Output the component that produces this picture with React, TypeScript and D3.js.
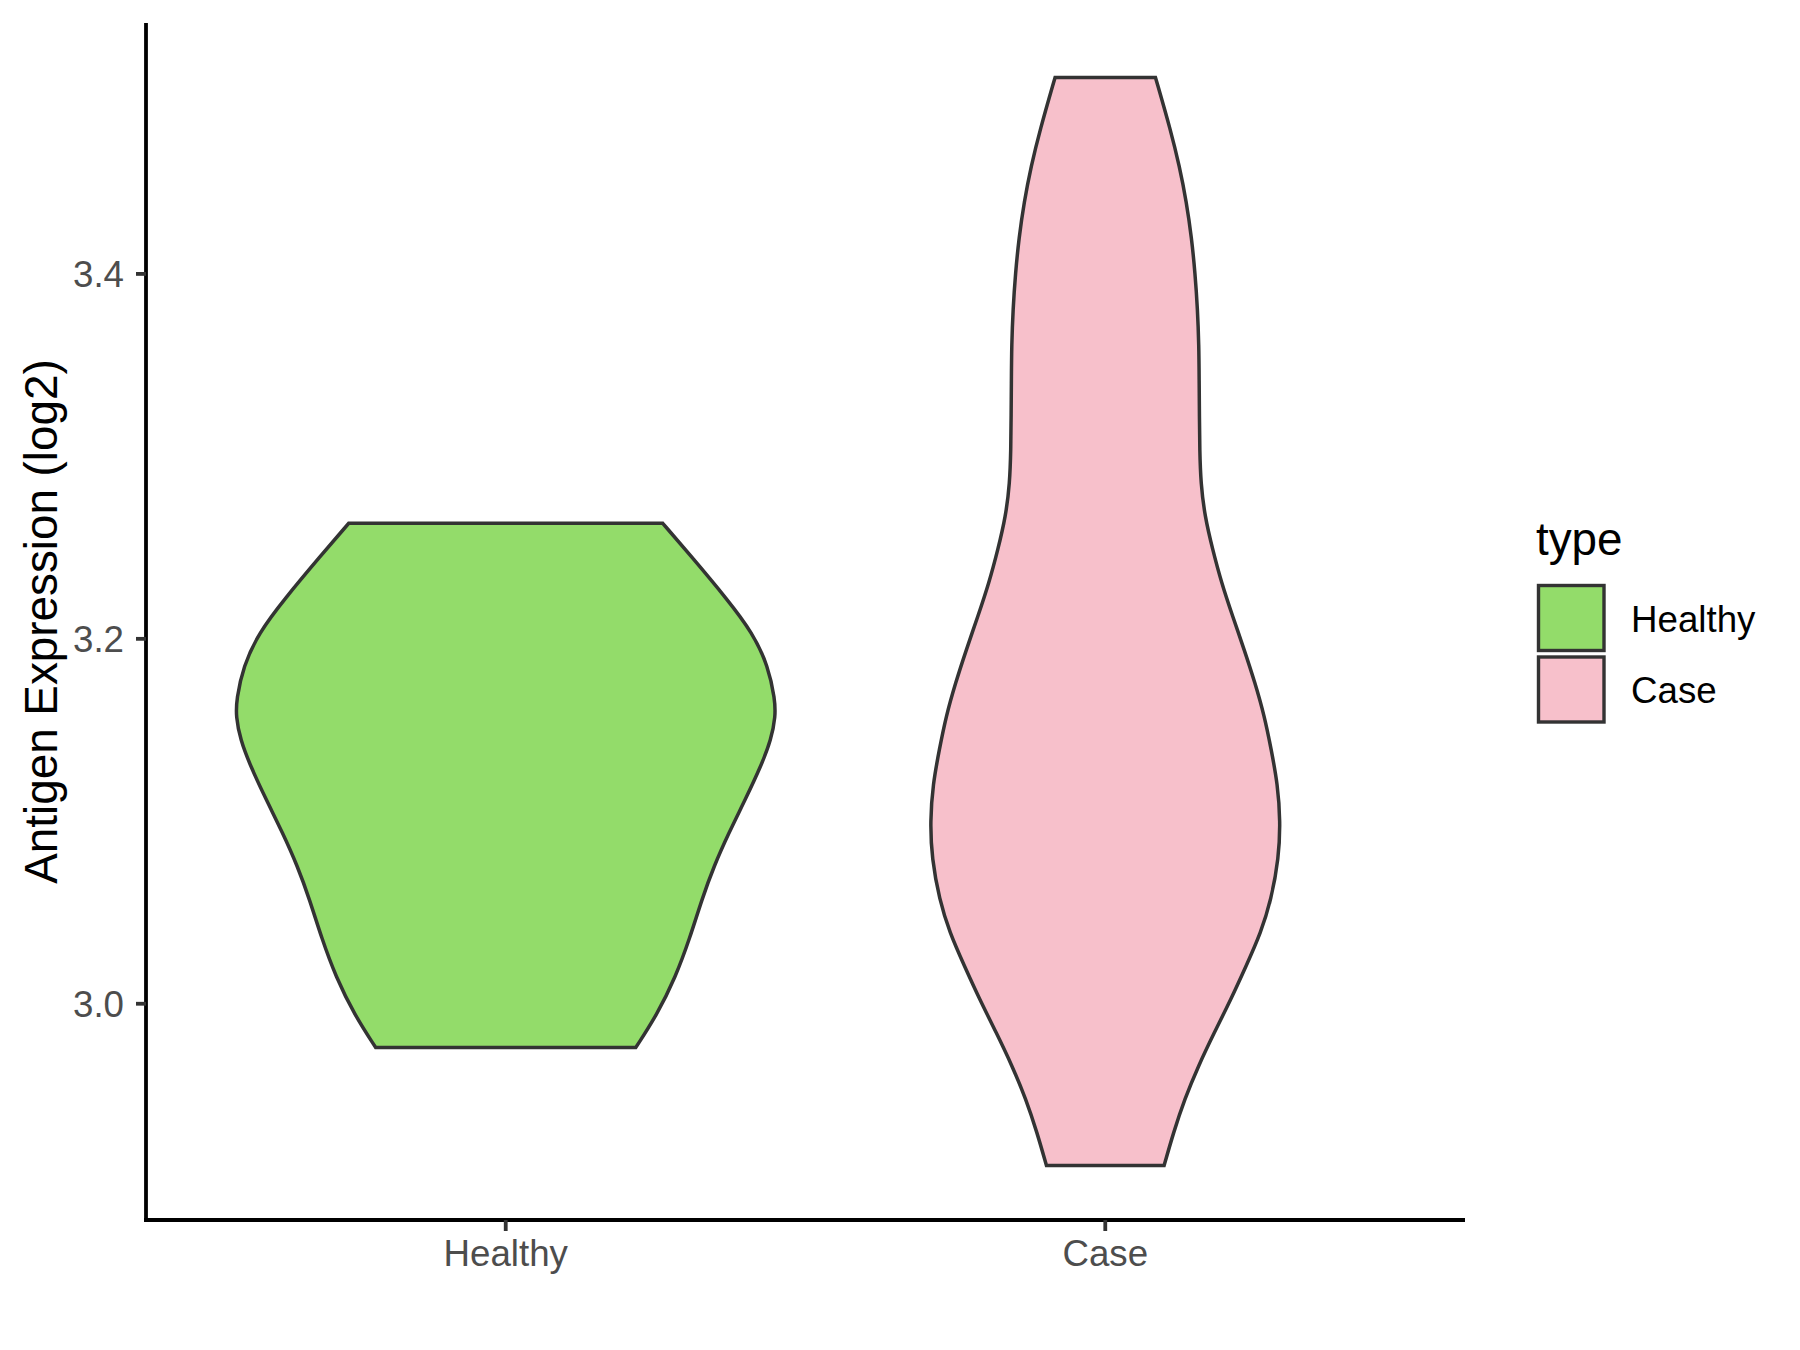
import React from 'react';
import * as d3 from 'd3';

// ---- data ----
const categories = ['Healthy', 'Case'];
const fillColors = ['#93DC6A', '#F7C0CB'];

// violin outlines: expression value (log2) and relative density (1 = widest)
const healthyValues = [3.2633, 3.2455, 3.2215, 3.2033, 3.185, 3.1667, 3.1576, 3.1448, 3.1302, 3.1119, 3.0937, 3.0755, 3.0572, 3.0358, 3.0148, 2.9938, 2.976];
const healthyDensity = [0.582, 0.686, 0.822, 0.915, 0.973, 0.998, 1.0, 0.984, 0.946, 0.888, 0.827, 0.772, 0.727, 0.682, 0.63, 0.56, 0.482];

const caseValues = [3.5077, 3.4784, 3.4589, 3.4393, 3.4197, 3.4002, 3.3806, 3.361, 3.3415, 3.3219, 3.3036, 3.2854, 3.2671, 3.2489, 3.2306, 3.2124, 3.1941, 3.1759, 3.1576, 3.1394, 3.1203, 3.1, 3.0797, 3.0572, 3.039, 3.0207, 3.0025, 2.9842, 2.9659, 2.9477, 2.9295, 2.9113];
const caseDensity = [0.186, 0.243, 0.275, 0.301, 0.32, 0.333, 0.342, 0.347, 0.348, 0.349, 0.35, 0.354, 0.369, 0.398, 0.431, 0.472, 0.515, 0.555, 0.59, 0.615, 0.639, 0.649, 0.643, 0.615, 0.577, 0.522, 0.466, 0.404, 0.345, 0.294, 0.253, 0.218];

const yTicks = [3.0, 3.2, 3.4];
const yTickLabels = ['3.0', '3.2', '3.4'];
const yTitle = 'Antigen Expression (log2)';
const legendTitle = 'type';

const FONT = '"Liberation Sans", Arial, Helvetica, sans-serif';

export default function App() {
  const W = 1800;
  const H = 1350;
  const left = 146;
  const right = 1465;
  const top = 23;
  const bottom = 1220;

  const series = [
    { name: categories[0], values: healthyValues, density: healthyDensity, fill: fillColors[0] },
    { name: categories[1], values: caseValues, density: caseDensity, fill: fillColors[1] },
  ];

  const all = [...healthyValues, ...caseValues];
  const lo = d3.min(all) as number;
  const hi = d3.max(all) as number;
  const pad = (hi - lo) * 0.05;

  const x = d3.scalePoint<string>().domain(categories).range([left, right]).padding(0.6);
  const step = x.step();
  const w = d3.scaleLinear().domain([0, 1]).range([0, step * 0.45]);
  const y = d3.scaleLinear().domain([lo - pad, hi + pad]).range([bottom, top]);

  return (
    <svg
      width={W}
      height={H}
      viewBox={`0 0 ${W} ${H}`}
      style={{ position: 'absolute', left: 0, top: 0, background: '#fff' }}
      fontFamily={FONT}
    >
      <rect x={0} y={0} width={W} height={H} fill="#fff" />
      {series.map((s) => {
        const cx = x(s.name) as number;
        const pts = s.values.map((v, i) => [v, s.density[i]] as [number, number]);
        const area = d3
          .area<[number, number]>()
          .x0((d) => cx - w(d[1]))
          .x1((d) => cx + w(d[1]))
          .y((d) => y(d[0]))
          .curve(d3.curveBasis);
        return (
          <path
            key={s.name}
            d={area(pts) || ''}
            fill={s.fill}
            stroke="#333333"
            strokeWidth={3.5}
            strokeLinejoin="miter"
          />
        );
      })}

      {/* axes */}
      <line x1={left} x2={left} y1={top} y2={bottom + 1.9} stroke="#000" strokeWidth={3.8} />
      <line x1={left - 1.9} x2={right} y1={bottom} y2={bottom} stroke="#000" strokeWidth={3.8} />

      {yTicks.map((t, i) => (
        <g key={t}>
          <line x1={left - 10} x2={left} y1={y(t)} y2={y(t)} stroke="#333" strokeWidth={3.8} />
          <text
            x={left - 22}
            y={y(t)}
            dy="0.36em"
            textAnchor="end"
            fontSize={36.7}
            fill="#4D4D4D"
          >
            {yTickLabels[i]}
          </text>
        </g>
      ))}

      {categories.map((c) => (
        <g key={c}>
          <line x1={x(c)} x2={x(c)} y1={bottom} y2={bottom + 11} stroke="#333" strokeWidth={3.8} />
          <text x={x(c)} y={1266} textAnchor="middle" fontSize={36.7} fill="#4D4D4D">
            {c}
          </text>
        </g>
      ))}

      <text
        transform={`translate(57, ${(top + bottom) / 2}) rotate(-90)`}
        textAnchor="middle"
        fontSize={45.8}
        fill="#000"
      >
        {yTitle}
      </text>

      {/* legend */}
      <text x={1536} y={555} fontSize={45.8} fill="#000">
        {legendTitle}
      </text>
      {series.map((s, i) => (
        <g key={s.name}>
          <rect
            x={1538.5}
            y={585.5 + i * 71.5}
            width={65.5}
            height={65}
            fill={s.fill}
            stroke="#333333"
            strokeWidth={3.4}
          />
          <text x={1631} y={632 + i * 70.5} fontSize={36.7} fill="#000">
            {s.name}
          </text>
        </g>
      ))}
    </svg>
  );
}
